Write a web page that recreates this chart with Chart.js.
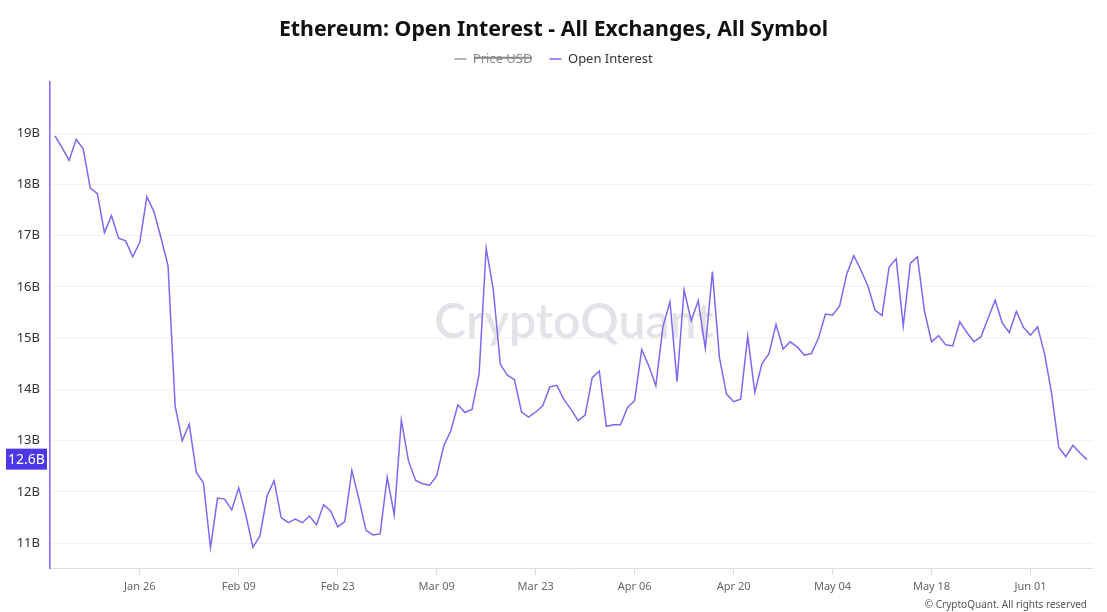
<!DOCTYPE html>
<html>
<head>
<meta charset="utf-8">
<title>Ethereum: Open Interest</title>
<script src="https://cdn.jsdelivr.net/npm/chart.js@4.4.1/dist/chart.umd.min.js"></script>
<style>
  html, body { margin: 0; padding: 0; background: #ffffff; }
  #wrap { width: 1107px; height: 612px; position: relative; }
</style>
</head>
<body>
<div id="wrap"><canvas id="myChart" width="1107" height="612"></canvas></div>
<script>
'use strict'
// data (daily, Jan 14 -> Jun 09), values in billions USD
var openInterest = [
  18.95, 18.72, 18.47, 18.88, 18.69, 17.93, 17.82, 17.06, 17.39, 16.95,
  16.90, 16.59, 16.87, 17.76, 17.47, 16.96, 16.41, 13.68, 13.00, 13.32,
  12.38, 12.18, 10.91, 11.88, 11.86, 11.65, 12.08, 11.55, 10.92, 11.14,
  11.92, 12.22, 11.50, 11.40, 11.47, 11.40, 11.53, 11.36, 11.75, 11.63,
  11.32, 11.42, 12.42, 11.86, 11.25, 11.16, 11.18, 12.29, 11.55, 13.40,
  12.61, 12.23, 12.16, 12.13, 12.31, 12.90, 13.19, 13.70, 13.55, 13.61,
  14.30, 16.76, 15.96, 14.49, 14.28, 14.19, 13.56, 13.46, 13.56, 13.68,
  14.05, 14.08, 13.80, 13.61, 13.39, 13.50, 14.23, 14.36, 13.28, 13.31,
  13.31, 13.65, 13.78, 14.78, 14.46, 14.07, 15.22, 15.71, 14.15, 15.94,
  15.34, 15.73, 14.80, 16.30, 14.62, 13.91, 13.76, 13.81, 15.04, 13.94,
  14.50, 14.70, 15.27, 14.79, 14.93, 14.83, 14.67, 14.70, 15.00, 15.47,
  15.45, 15.63, 16.25, 16.61, 16.33, 16.02, 15.55, 15.44, 16.39, 16.55,
  15.24, 16.46, 16.59, 15.53, 14.93, 15.05, 14.87, 14.85, 15.32, 15.11,
  14.93, 15.03, 15.39, 15.74, 15.30, 15.11, 15.52, 15.21, 15.06, 15.22,
  14.69, 13.91, 12.87, 12.69, 12.91, 12.76, 12.63
];
var priceUsd = [];
var xTickDays = [12, 26, 40, 54, 68, 82, 96, 110, 124, 138];
var xTickLabels = ['Jan 26', 'Feb 09', 'Feb 23', 'Mar 09', 'Mar 23', 'Apr 06', 'Apr 20', 'May 04', 'May 18', 'Jun 01'];
var yTicks = [11, 12, 13, 14, 15, 16, 17, 18, 19];
var lastLabel = '12.6B';

var lineColor = 'rgb(123, 106, 240)';

// points as {x: day index, y: value}
var points = [];
for (var i = 0; i < openInterest.length; i++) {
    points.push({ x: i, y: openInterest[i] });
}

// watermark, last value badge and footer
var extras = {
    id: 'extras',
    beforeDatasetsDraw: function (chart) {
        var ctx = chart.ctx;
        var area = chart.chartArea;
        ctx.save();
        ctx.font = '600 48px Lato, "Noto Sans", sans-serif';
        ctx.fillStyle = 'rgba(205, 203, 215, 0.55)';
        ctx.textAlign = 'center';
        ctx.textBaseline = 'middle';
        ctx.fillText('CryptoQuant', (area.left + area.right) / 2 + 3, 323);
        ctx.restore();
    },
    afterDraw: function (chart) {
        var ctx = chart.ctx;
        var yScale = chart.scales.y;
        var last = openInterest[openInterest.length - 1];
        var py = yScale.getPixelForValue(last);
        ctx.save();
        ctx.fillStyle = 'rgb(76, 56, 232)';
        ctx.fillRect(6, py - 11, 41, 21);
        ctx.fillStyle = '#ffffff';
        ctx.font = '14px "Noto Sans", sans-serif';
        ctx.textAlign = 'center';
        ctx.textBaseline = 'middle';
        ctx.fillText(lastLabel, 26.5, py);
        ctx.font = '10px "Noto Sans", sans-serif';
        ctx.fillStyle = '#555555';
        ctx.textAlign = 'right';
        ctx.fillText('\u00A9 CryptoQuant. All rights reserved', 1087, 605);
        ctx.restore();
    }
};

var ctx = document.getElementById('myChart').getContext('2d');
var chart = new Chart(ctx, {
    type: 'line',
    data: {
        datasets: [{
            label: 'Price USD',
            data: priceUsd,
            borderColor: '#9a9a9a',
            backgroundColor: '#9a9a9a',
            borderWidth: 1.5,
            hidden: true
        }, {
            label: 'Open Interest',
            data: points,
            borderColor: lineColor,
            backgroundColor: lineColor,
            borderWidth: 1.5,
            pointRadius: 0,
            tension: 0
        }]
    },
    plugins: [extras],
    options: {
        responsive: false,
        animation: false,
        layout: { padding: { left: 0, right: 0, bottom: 14 } },
        plugins: {
            title: {
                display: true,
                text: 'Ethereum: Open Interest - All Exchanges, All Symbol',
                color: '#111111',
                font: { family: '"Noto Sans", sans-serif', size: 21.3, weight: 'bold', lineHeight: 1.2 },
                padding: { top: 17.2, bottom: -7.3 }
            },
            subtitle: {
                display: true,
                text: '',
                weight: 500,
                font: { size: 1, lineHeight: 1 },
                padding: { top: 0, bottom: 5.5 }
            },
            legend: {
                display: true,
                onClick: null,
                labels: {
                    font: { family: '"Noto Sans", sans-serif', size: 13 },
                    padding: 17,
                    usePointStyle: true,
                    pointStyle: 'line',
                    pointStyleWidth: 12,
                    boxWidth: 12,
                    generateLabels: function (c) {
                        var items = Chart.defaults.plugins.legend.labels.generateLabels(c);
                        items.forEach(function (it) {
                            it.fontColor = it.hidden ? '#8a8a8a' : '#333333';
                            it.lineWidth = 1.5;
                        });
                        return items;
                    }
                }
            },
            tooltip: { enabled: false }
        },
        scales: {
            x: {
                type: 'linear',
                min: -0.7,
                max: 146.7,
                afterBuildTicks: function (axis) {
                    axis.ticks = xTickDays.map(function (d) { return { value: d }; });
                },
                ticks: {
                    autoSkip: false,
                    maxRotation: 0,
                    padding: 5,
                    color: '#666666',
                    font: { family: '"Noto Sans", sans-serif', size: 11 },
                    callback: function (value) {
                        var idx = xTickDays.indexOf(value);
                        return idx >= 0 ? xTickLabels[idx] : '';
                    }
                },
                grid: { drawOnChartArea: false, drawTicks: true, tickLength: 6, color: '#dddddd' },
                border: { display: true, color: '#dddddd', width: 1 }
            },
            y: {
                type: 'linear',
                min: 10.5,
                max: 20,
                afterBuildTicks: function (axis) {
                    axis.ticks = yTicks.map(function (v) { return { value: v }; });
                },
                afterFit: function (axis) {
                    axis.width = 50;
                },
                ticks: {
                    padding: 10,
                    color: '#333333',
                    font: { family: '"Noto Sans", sans-serif', size: 13 },
                    callback: function (value) { return value + 'B'; }
                },
                grid: { drawTicks: false, color: '#f2f2f2' },
                border: { display: true, color: lineColor, width: 1.5 }
            },
            // empty right axis, only keeps a margin right of the plot (hidden price axis)
            yRight: {
                type: 'linear',
                position: 'right',
                afterFit: function (axis) {
                    axis.width = 15;
                },
                ticks: { display: false },
                grid: { drawOnChartArea: false, drawTicks: false },
                border: { display: false }
            }
        }
    }
});
</script>
</body>
</html>
